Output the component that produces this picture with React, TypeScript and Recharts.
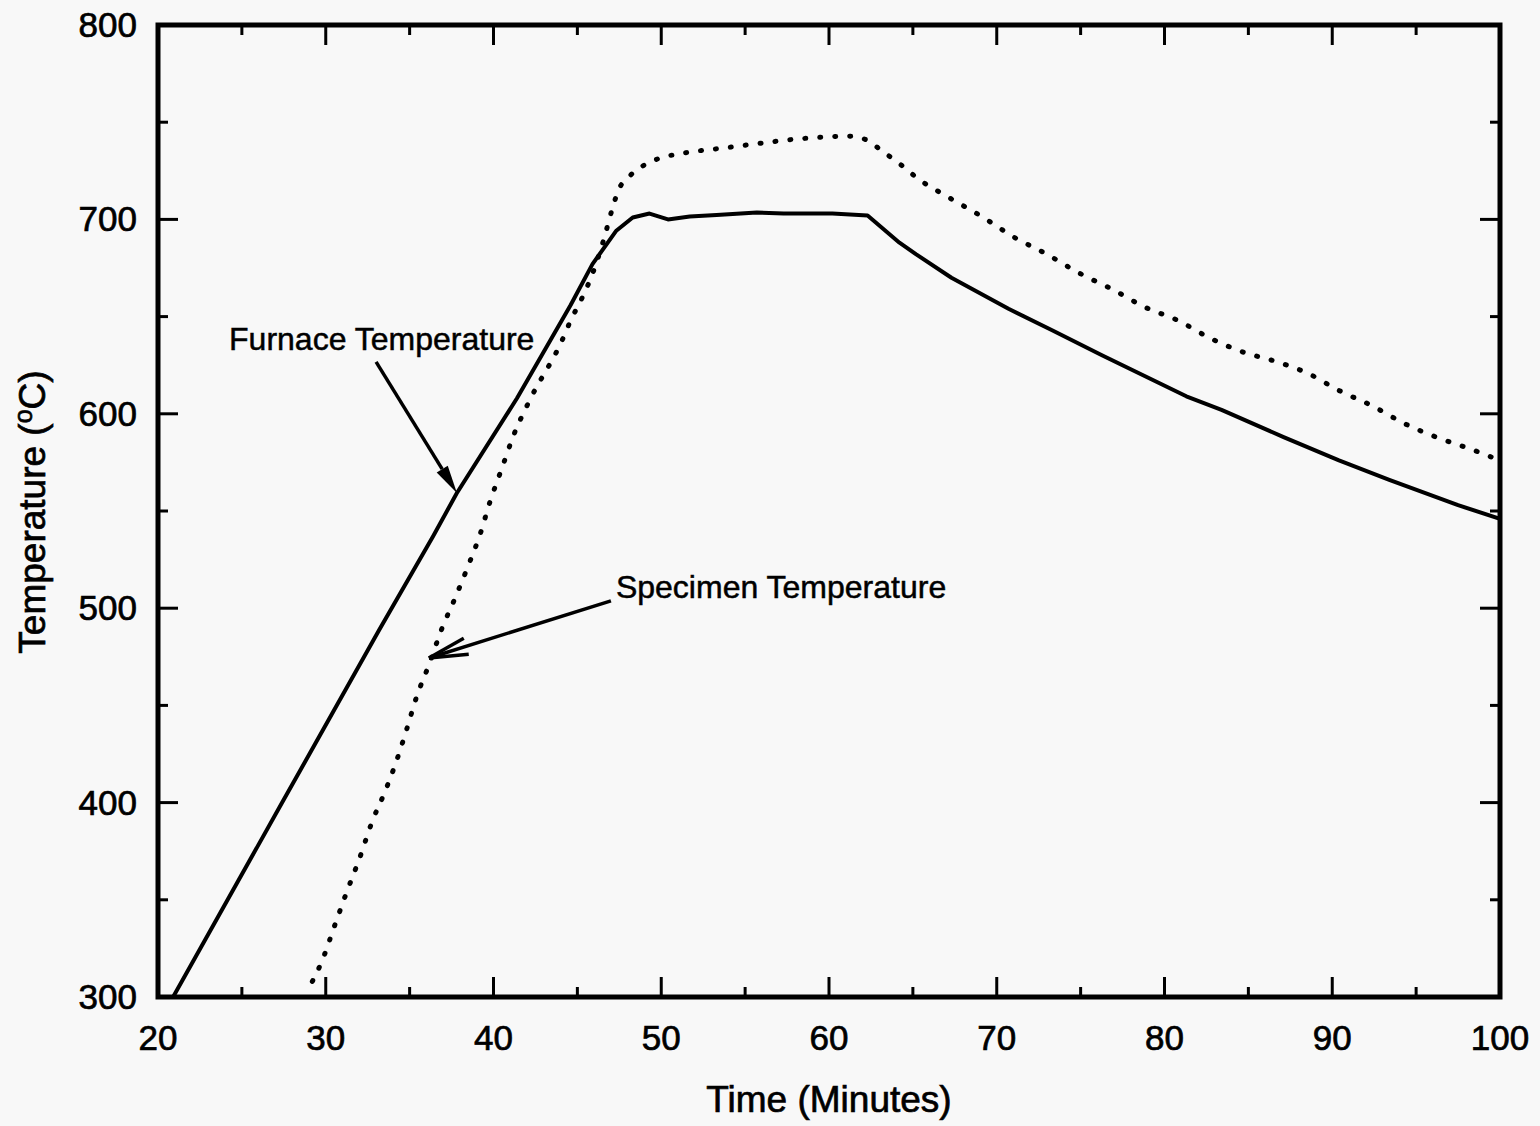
import React from 'react';
import { LineChart, Line, XAxis, YAxis, ReferenceArea, ReferenceLine } from 'recharts';

// furnace (solid) curve
const FURNACE_TIME = [20.9, 27.4, 30.2, 33.2, 36.4, 37.8, 41.4, 43.4, 44.6, 45.9, 47.3, 48.3, 49.3, 50.4, 51.7, 53.3, 55.7, 57.3, 60.2, 62.3, 64.2, 65.2, 67.3, 70.7, 73.3, 76.3, 81.3, 83.4, 87.1, 90.4, 93.4, 97.5, 100];
const FURNACE_TEMP = [300, 400, 443, 489, 537, 559, 608, 638, 656, 677, 694, 701, 703, 700, 701.5, 702.3, 703.5, 703, 703, 702, 688, 682, 670, 654, 643, 630, 609, 602, 588, 576, 566, 553, 546];

// specimen (dotted) curve
const SPECIMEN_TIME = [29.2, 29.8, 30.5, 31.25, 32.0, 32.8, 33.5, 34.2, 34.8, 35.4, 36.2, 36.9, 37.7, 38.5, 39.2, 39.8, 40.5, 41.2, 42.1, 44.1, 44.6, 45.3, 45.9, 46.55, 47.1, 47.4, 48.2, 49.1, 50.1, 51.0, 52.0, 53.5, 55.3, 58.3, 61.3, 62.2, 63.2, 64.3, 65.3, 67.2, 69.2, 71.0, 73.0, 75.0, 76.9, 78.8, 80.8, 82.7, 84.6, 86.6, 88.5, 90.4, 92.4, 94.3, 96.2, 98.2, 100];
const SPECIMEN_TEMP = [308, 319, 336, 354, 371, 391, 405, 421, 437, 454, 472, 489, 505, 522, 538, 555, 572, 589, 606, 638, 648, 660, 672, 689, 706, 714, 723, 728.5, 732, 733.6, 735, 736.5, 738.5, 741.5, 742.8, 741, 735, 728, 721, 711, 701, 691, 682, 672, 664, 655, 648, 639, 632, 627, 621, 612, 604, 595, 588, 582, 576];

const X_TICKS = [20, 25, 30, 35, 40, 45, 50, 55, 60, 65, 70, 75, 80, 85, 90, 95, 100];
const Y_TICKS = [300, 350, 400, 450, 500, 550, 600, 650, 700, 750, 800];

const furnace = FURNACE_TIME.map((t, i) => ({ t, v: FURNACE_TEMP[i] }));
const specimen = SPECIMEN_TIME.map((t, i) => ({ t, v: SPECIMEN_TEMP[i] }));

const FONT = '"Liberation Sans", Arial, sans-serif';
// scanned text looks heavier than plain Arial
const INK = { fill: '#000', stroke: '#000', strokeWidth: 0.7, fontFamily: FONT };

const BottomTick = ({ x, y, payload }: any) => {
  const major = payload.value % 10 === 0;
  return (
    <g>
      <line x1={x} y1={y} x2={x} y2={y - (major ? 20 : 10)} stroke="#000" strokeWidth={3} />
      {major && (
        <text x={x} y={y + 53} textAnchor="middle" fontSize={35} {...INK}>
          {payload.value}
        </text>
      )}
    </g>
  );
};

const TopTick = ({ x, y, payload }: any) => {
  const major = payload.value % 10 === 0;
  return <line x1={x} y1={y} x2={x} y2={y + (major ? 20 : 10)} stroke="#000" strokeWidth={3} />;
};

const LeftTick = ({ x, y, payload }: any) => {
  const major = payload.value % 100 === 0;
  return (
    <g>
      <line x1={x} y1={y} x2={x + (major ? 20 : 10)} y2={y} stroke="#000" strokeWidth={3} />
      {major && (
        <text x={x - 21} y={y + 12} textAnchor="end" fontSize={35} {...INK}>
          {payload.value}
        </text>
      )}
    </g>
  );
};

const RightTick = ({ x, y, payload }: any) => {
  const major = payload.value % 100 === 0;
  return <line x1={x} y1={y} x2={x - (major ? 20 : 10)} y2={y} stroke="#000" strokeWidth={3} />;
};

const furnaceArrow = (p: any) => {
  const { x1, y1, x2, y2 } = p;
  const dx = x2 - x1;
  const dy = y2 - y1;
  const len = Math.hypot(dx, dy);
  const ux = dx / len;
  const uy = dy / len;
  const bx = x2 - ux * 28;
  const by = y2 - uy * 28;
  const px = -uy * 6.5;
  const py = ux * 6.5;
  return (
    <g>
      <line x1={x1} y1={y1} x2={bx} y2={by} stroke="#000" strokeWidth={3.5} />
      <polygon points={`${x2},${y2} ${bx + px},${by + py} ${bx - px},${by - py}`} fill="#000" />
      <text x={x1 - 147} y={y1 - 12} fontSize={32} {...INK} strokeWidth={0.5}>
        Furnace Temperature
      </text>
    </g>
  );
};

const specimenArrow = (p: any) => {
  const { x1, y1, x2, y2 } = p;
  const ang = Math.atan2(y1 - y2, x1 - x2);
  const b = 12 * Math.PI / 180;
  const L = 40;
  return (
    <g>
      <line x1={x1} y1={y1} x2={x2} y2={y2} stroke="#000" strokeWidth={3.5} />
      <line x1={x2} y1={y2} x2={x2 + L * Math.cos(ang - b)} y2={y2 + L * Math.sin(ang - b)} stroke="#000" strokeWidth={3.5} />
      <line x1={x2} y1={y2} x2={x2 + L * Math.cos(ang + b)} y2={y2 + L * Math.sin(ang + b)} stroke="#000" strokeWidth={3.5} />
      <text x={x1 + 5} y={y1 - 3} fontSize={32} {...INK} strokeWidth={0.5}>
        Specimen Temperature
      </text>
    </g>
  );
};

const XTitle = () => (
  <text x={829} y={1112} textAnchor="middle" fontSize={37} {...INK}>
    Time (Minutes)
  </text>
);

const YTitle = () => (
  <text transform="translate(45,512) rotate(-90)" textAnchor="middle" fontSize={37} {...INK}>
    Temperature (<tspan dy={-13} fontSize={25}>o</tspan>
    <tspan dy={13}>C)</tspan>
  </text>
);

export default function App() {
  return (
    <div style={{ position: 'absolute', left: 0, top: 0, width: 1540, height: 1126, background: '#f8f8f8' }}>
      <LineChart width={1540} height={1126} margin={{ top: 0, right: 0, bottom: 0, left: 0 }}>
        <XAxis
          xAxisId="b"
          dataKey="t"
          orientation="bottom"
          type="number"
          domain={[20, 100]}
          ticks={X_TICKS}
          interval={0}
          allowDataOverflow
          height={129}
          axisLine={false}
          tickLine={false}
          tickSize={0}
          tickMargin={0}
          tick={<BottomTick />}
          label={{ content: () => <XTitle /> }}
        />
        <XAxis
          xAxisId="t"
          dataKey="t"
          orientation="top"
          type="number"
          domain={[20, 100]}
          ticks={X_TICKS}
          interval={0}
          allowDataOverflow
          height={25}
          axisLine={false}
          tickLine={false}
          tickSize={0}
          tickMargin={0}
          tick={<TopTick />}
        />
        <YAxis
          yAxisId="l"
          orientation="left"
          type="number"
          domain={[300, 800]}
          ticks={Y_TICKS}
          interval={0}
          allowDataOverflow
          width={158}
          axisLine={false}
          tickLine={false}
          tickSize={0}
          tickMargin={0}
          tick={<LeftTick />}
          label={{ content: () => <YTitle /> }}
        />
        <YAxis
          yAxisId="r"
          orientation="right"
          type="number"
          domain={[300, 800]}
          ticks={Y_TICKS}
          interval={0}
          allowDataOverflow
          width={40}
          axisLine={false}
          tickLine={false}
          tickSize={0}
          tickMargin={0}
          tick={<RightTick />}
        />
        <Line
          xAxisId="b"
          yAxisId="l"
          data={furnace}
          dataKey="v"
          type="linear"
          stroke="#000"
          strokeWidth={4}
          strokeLinejoin="round"
          dot={false}
          isAnimationActive={false}
        />
        <Line
          xAxisId="b"
          yAxisId="l"
          data={specimen}
          dataKey="v"
          type="monotone"
          stroke="#000"
          strokeWidth={5}
          strokeDasharray="1 14"
          strokeLinecap="round"
          dot={false}
          isAnimationActive={false}
        />
        <ReferenceLine
          xAxisId="b"
          yAxisId="l"
          segment={[{ x: 33.0, y: 626.7 }, { x: 37.82, y: 559.3 }]}
          shape={furnaceArrow}
        />
        <ReferenceLine
          xAxisId="b"
          yAxisId="l"
          segment={[{ x: 47.0, y: 503.8 }, { x: 36.15, y: 474.4 }]}
          shape={specimenArrow}
        />
        <ReferenceArea
          xAxisId="b"
          yAxisId="l"
          x1={20}
          x2={100}
          y1={300}
          y2={800}
          fill="none"
          fillOpacity={0}
          stroke="#000"
          strokeWidth={5}
          ifOverflow="visible"
        />
      </LineChart>
    </div>
  );
}
